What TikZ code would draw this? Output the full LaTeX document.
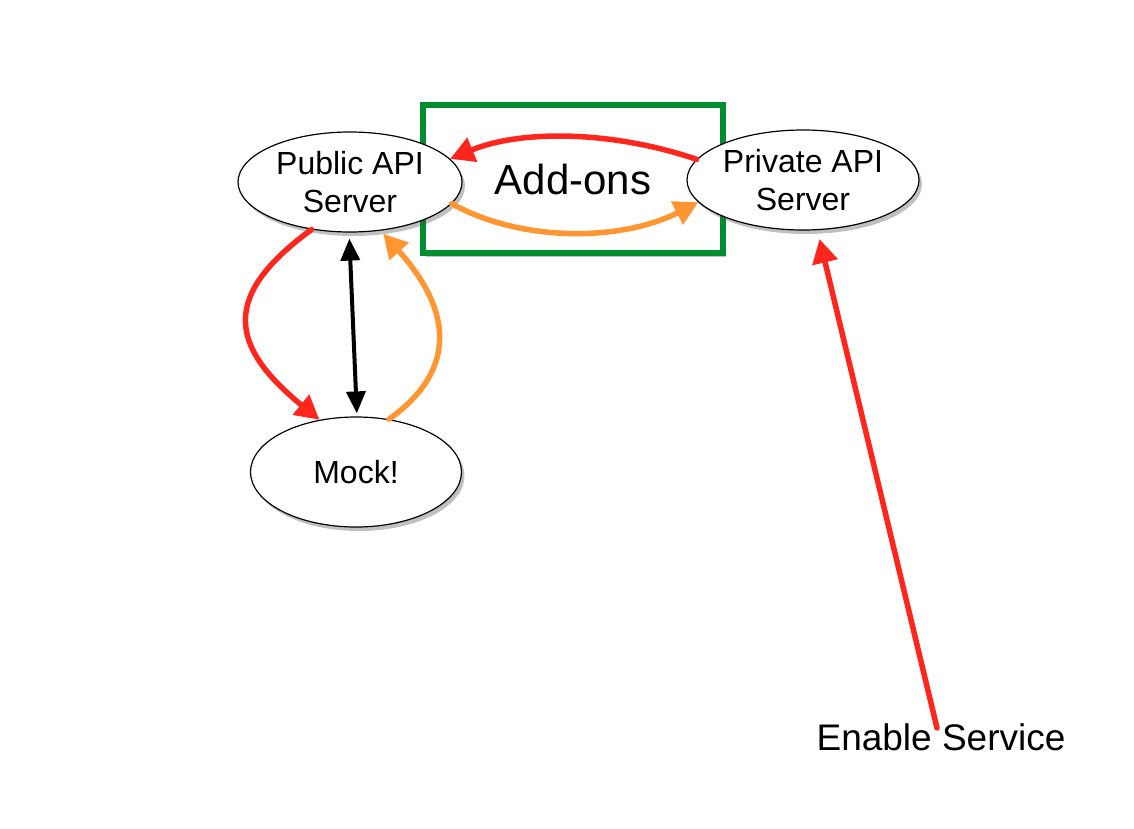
\documentclass[tikz,border=0pt]{standalone}
\usepackage{fontspec}
\setmainfont{Liberation Sans}
\usetikzlibrary{shapes.geometric,arrows.meta,shadows}
\definecolor{cred}{RGB}{255,38,30}
\definecolor{corange}{RGB}{255,150,50}
\definecolor{cgreen}{RGB}{0,140,48}
\begin{document}
\begin{tikzpicture}[x=1pt,y=-1pt,
  shad/.style={drop shadow={shadow xshift=3pt,shadow yshift=-4pt,opacity=0.35,fill=black!70}},
  server/.style={ellipse,draw=black,line width=1.2pt,fill=white,inner sep=0pt,
     align=center,font=\fontsize{32}{38}\selectfont,shad},
  conn/.style={line width=5.5pt,line cap=round,-{Triangle[length=24pt,width=25pt]}},
  dconn/.style={line width=4pt,{Triangle[length=22pt,width=19pt]}-{Triangle[length=22pt,width=19pt]}},
]
\useasboundingbox (0,0) rectangle (1134,829);
\fill[white] (0,0) rectangle (1134,829);

\node[draw=cgreen,line width=6pt,fill=white,minimum width=300pt,minimum height=148pt,
  inner sep=0pt,font=\fontsize{42}{48}\selectfont,shad] (box) at (573,179) {\raisebox{-4pt}{Add-ons}};

\node[server,minimum width=224pt,minimum height=100pt] (pub) at (350,182) {Public API\\Server};
\node[server,minimum width=232pt,minimum height=100pt] (priv) at (803,180) {Private API\\Server};
\node[server,minimum width=211pt,minimum height=110pt] (mock) at (356,472) {Mock!};

\node[font=\fontsize{37}{42}\selectfont,inner sep=0pt] (es) at (941,737) {Enable Service};
\coordinate (esstart) at (937,728);

% Private -> Public (red, top)
\draw[conn,cred] (priv.169) .. controls (610,130) and (520,130) .. (pub.13);
% Public -> Private (orange, bottom)
\draw[conn,corange] (pub.-12) .. controls (520,242) and (620,242) .. (priv.-168);
% Public -> Mock (red)
\draw[conn,cred] (pub.-129) .. controls (222,295) and (228,345) .. (mock.125);
% Mock -> Public (orange)
\draw[conn,corange,shorten >=4pt] (mock.58) .. controls (458,370) and (452,310) .. (pub.-58);
% Public <-> Mock (black)
\draw[dconn,black,shorten <=6pt,shorten >=3pt] (pub.-91) -- (mock.89);
% Enable Service -> Private
\draw[conn,cred,shorten >=9pt] (esstart) -- (priv.-74);
\end{tikzpicture}
\end{document}
